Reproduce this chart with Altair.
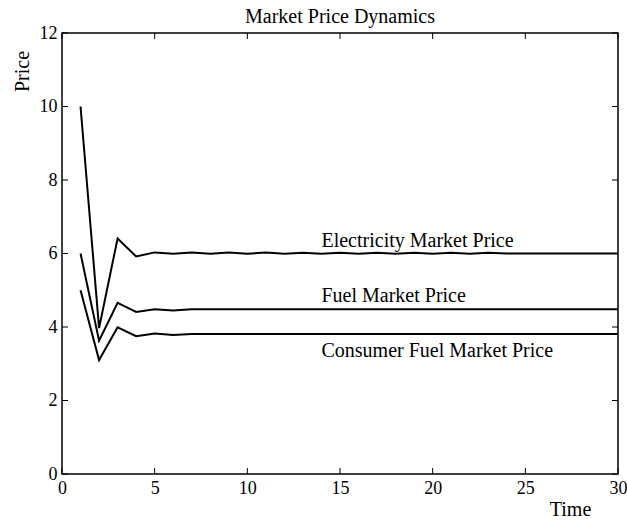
import altair as alt
import pandas as pd

# Simulated market prices over 30 periods
time = list(range(1, 31))
electricity = [10.0, 3.97, 6.41, 5.92, 6.03, 5.99, 6.03, 5.99, 6.03, 5.99,
               6.03, 5.99, 6.02, 5.99, 6.02, 5.99, 6.02, 5.99, 6.02, 5.99,
               6.02, 5.99, 6.02, 6.0, 6.0, 6.0, 6.0, 6.0, 6.0, 6.0]
fuel = [6.0, 3.63, 4.66, 4.41, 4.48, 4.45, 4.48, 4.48, 4.48, 4.48,
        4.48, 4.48, 4.48, 4.48, 4.48, 4.48, 4.48, 4.48, 4.48, 4.48,
        4.48, 4.48, 4.48, 4.48, 4.48, 4.48, 4.48, 4.48, 4.48, 4.48]
consumer_fuel = [5.0, 3.10, 3.99, 3.75, 3.82, 3.78, 3.81, 3.81, 3.81, 3.81,
                 3.81, 3.81, 3.81, 3.81, 3.81, 3.81, 3.81, 3.81, 3.81, 3.81,
                 3.81, 3.81, 3.81, 3.81, 3.81, 3.81, 3.81, 3.81, 3.81, 3.81]

series_names = ["Electricity Market Price", "Fuel Market Price",
                "Consumer Fuel Market Price"]
label_time = 14
chart_title = ["Market Price Dynamics"]

x_ticks = [0, 5, 10, 15, 20, 25, 30]
y_ticks = [0, 2, 4, 6, 8, 10, 12]

FONT = "Liberation Serif"
W, H = 556, 441
TICK = 6

df = pd.DataFrame({
    "Time": time * 3,
    "Price": electricity + fuel + consumer_fuel,
    "Series": [series_names[0]] * 30 + [series_names[1]] * 30 + [series_names[2]] * 30,
})

labels = pd.DataFrame({
    "Series": series_names,
    "Time": [label_time] * 3,
    "Price": [electricity[-1], fuel[-1], consumer_fuel[-1]],
})

xs = alt.Scale(domain=[0, 30], nice=False, zero=False)
ys = alt.Scale(domain=[0, 12], nice=False, zero=False)

lines = alt.Chart(df).mark_line(color="black", strokeWidth=2).encode(
    x=alt.X("Time:Q", scale=xs,
            axis=alt.Axis(values=x_ticks, title="Time", ticks=False,
                          domain=False, grid=False, labelPadding=5,
                          labelFlush=False,
                          titleX=508, titleY=41, titleAnchor="start",
                          titleAlign="center", titleBaseline="alphabetic")),
    y=alt.Y("Price:Q", scale=ys,
            axis=alt.Axis(values=y_ticks, title="Price", ticks=False,
                          domain=False, grid=False, labelPadding=5,
                          labelFlush=False,
                          titleX=-40, titleY=38, titleAngle=270,
                          titleAlign="center", titleBaseline="middle")),
    detail="Series:N",
)

# Curve labels: first two sit above their line, the last one below
text_layers = []
for name, dy in zip(series_names, [-7, -7, 23]):
    text_layers.append(
        alt.Chart(labels).transform_filter(alt.datum.Series == name)
        .mark_text(align="left", baseline="alphabetic", dy=dy,
                   font=FONT, fontSize=20, color="black")
        .encode(x=alt.X("Time:Q", scale=xs), y=alt.Y("Price:Q", scale=ys),
                text="Series:N")
    )

# Heading centred over the axes box
heading = alt.Chart(pd.DataFrame({"t": chart_title})).mark_text(
    align="center", baseline="alphabetic", font=FONT, fontSize=20,
    color="black"
).encode(x=alt.value(W / 2), y=alt.value(-10), text="t:N")

# Inward tick marks on all four sides of the box
xt = pd.DataFrame({"v": x_ticks})
yt = pd.DataFrame({"v": y_ticks})
tick_bottom = alt.Chart(xt).mark_rule(color="black", strokeWidth=1).encode(
    x=alt.X("v:Q", scale=xs), y=alt.value(H), y2=alt.value(H - TICK))
tick_top = alt.Chart(xt).mark_rule(color="black", strokeWidth=1).encode(
    x=alt.X("v:Q", scale=xs), y=alt.value(0), y2=alt.value(TICK))
tick_left = alt.Chart(yt).mark_rule(color="black", strokeWidth=1).encode(
    y=alt.Y("v:Q", scale=ys), x=alt.value(0), x2=alt.value(TICK))
tick_right = alt.Chart(yt).mark_rule(color="black", strokeWidth=1).encode(
    y=alt.Y("v:Q", scale=ys), x=alt.value(W), x2=alt.value(W - TICK))

chart = alt.layer(
    lines, *text_layers, heading, tick_bottom, tick_top, tick_left, tick_right
).properties(
    width=W, height=H,
    background="white",
    autosize=alt.AutoSizeParams(type="none"),
    padding={"left": 62, "top": 33, "right": 9, "bottom": 51},
).configure_view(
    stroke="black", strokeWidth=1.5
).configure_axis(
    labelFont=FONT, labelFontSize=18, labelColor="black",
    titleFont=FONT, titleFontSize=20, titleFontWeight="normal",
    titleColor="black",
)

chart.save("out.html", embed_options={"renderer": "svg", "actions": False})
